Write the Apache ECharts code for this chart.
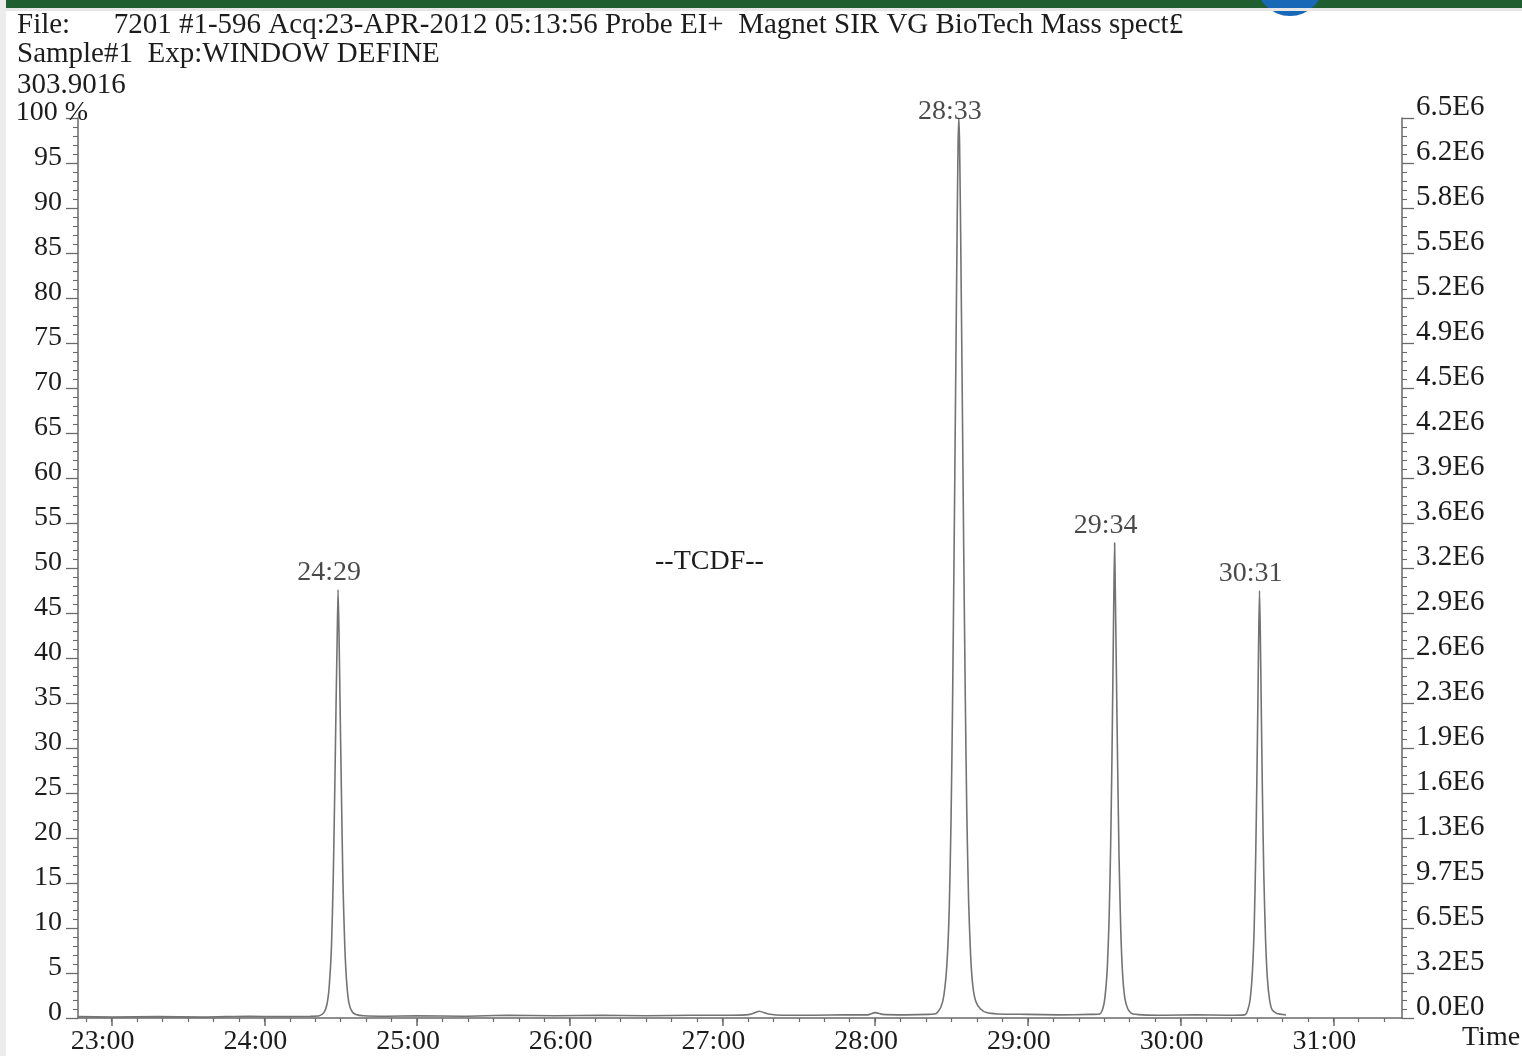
<!DOCTYPE html>
<html>
<head>
<meta charset="utf-8">
<script src="https://cdn.jsdelivr.net/npm/echarts@6/dist/echarts.min.js"></script>
<style>
html,body{margin:0;padding:0;background:#fff;}
#chart{width:1522px;height:1056px;}
</style>
</head>
<body>
<div id="chart"></div>
<script>
// ---- header text ----
const headerLines = [
  'File:      7201 #1-596 Acq:23-APR-2012 05:13:56 Probe EI+  Magnet SIR VG BioTech Mass spect\u00a3',
  'Sample#1  Exp:WINDOW DEFINE',
  '303.9016'
];
const compoundLabel = '--TCDF--';

// ---- axes ----
const xTickValues = [23, 24, 25, 26, 27, 28, 29, 30, 31];
const xTickLabels = ['23:00', '24:00', '25:00', '26:00', '27:00', '28:00', '29:00', '30:00', '31:00'];
const leftLabels = ['0', '5', '10', '15', '20', '25', '30', '35', '40', '45', '50', '55', '60', '65', '70', '75', '80', '85', '90', '95', '100 %'];
const rightLabels = ['0.0E0', '3.2E5', '6.5E5', '9.7E5', '1.3E6', '1.6E6', '1.9E6', '2.3E6', '2.6E6', '2.9E6', '3.2E6', '3.6E6', '3.9E6', '4.2E6', '4.5E6', '4.9E6', '5.2E6', '5.5E6', '5.8E6', '6.2E6', '6.5E6'];
const xAxisName = 'Time';

// ---- trace (retention time in minutes, relative intensity %) ----
const traceTime = [
  22.78, 23.0, 23.3, 23.6, 23.9, 24.1, 24.3,
  24.36, 24.39, 24.41, 24.425, 24.44, 24.452, 24.462, 24.47, 24.477, 24.483, 24.489, 24.496, 24.505, 24.515, 24.527, 24.54, 24.555, 24.575, 24.60, 24.65,
  24.8, 25.0, 25.3, 25.6, 25.9, 26.2, 26.5, 26.8, 27.05, 27.18, 27.24, 27.3, 27.4, 27.6, 27.8, 27.95, 28.0, 28.05, 28.2, 28.35,
  28.40, 28.43, 28.45, 28.47, 28.485, 28.497, 28.507, 28.517, 28.527, 28.537, 28.543, 28.548, 28.553, 28.56, 28.57, 28.58, 28.59, 28.60, 28.612, 28.625, 28.64, 28.66, 28.69, 28.73, 28.8,
  29.0, 29.2, 29.4,
  29.47, 29.49, 29.505, 29.52, 29.532, 29.542, 29.55, 29.557, 29.563, 29.568, 29.573, 29.58, 29.588, 29.597, 29.608, 29.62, 29.635, 29.655, 29.68, 29.75,
  29.9, 30.1, 30.3,
  30.42, 30.44, 30.455, 30.47, 30.482, 30.492, 30.5, 30.507, 30.512, 30.517, 30.522, 30.528, 30.536, 30.545, 30.556, 30.568, 30.583, 30.60, 30.63, 30.69
];
const traceIntensity = [
  0.15, 0.1, 0.15, 0.1, 0.2, 0.15, 0.2,
  0.25, 0.6, 1.5, 3.5, 8, 16, 26, 35, 42, 47.6, 43, 35, 25, 15, 8, 3.8, 1.6, 0.7, 0.4, 0.25,
  0.2, 0.25, 0.2, 0.3, 0.25, 0.3, 0.25, 0.3, 0.3, 0.4, 0.75, 0.45, 0.3, 0.3, 0.35, 0.35, 0.6, 0.4, 0.35, 0.4,
  0.5, 1.2, 2.5, 6, 12, 22, 35, 52, 70, 88, 97, 100, 97, 87, 70, 52, 36, 23, 13, 7, 3.5, 1.8, 1.0, 0.6, 0.45,
  0.4, 0.35, 0.4,
  0.45, 1.0, 2.3, 5.5, 11, 19, 28, 38, 47, 52.8, 47, 38, 28, 18, 10, 5, 2.2, 1.0, 0.5, 0.35,
  0.3, 0.35, 0.3,
  0.35, 0.9, 2.0, 5, 10, 18, 27, 36, 43, 47.5, 43, 35, 25, 16, 9, 4.5, 2.0, 0.9, 0.5, 0.35
];

// ---- peak annotations ----
const peakLabels = ['24:29', '28:33', '29:34', '30:31'];
const peakTime = [24.483, 28.548, 29.568, 30.517];
const peakIntensity = [47.6, 100, 52.8, 47.5];

const FONT = '"Liberation Serif", "DejaVu Serif", serif';
const TXT = '#1c1c1c';
const AX = '#6a6a6a';

const minorTicks = [];
for (let k = 0; k < 52; k++) {
  const v = 22 + 5 / 6 + k / 6;
  if (v < 31.45) minorTicks.push(+v.toFixed(4));
}

const chart = echarts.init(document.getElementById('chart'), null, {renderer: 'canvas'});
const fs = 28;
const hfs = 29;

const option = {
  animation: false,
  backgroundColor: '#ffffff',
  graphic: [
    {type: 'rect', shape: {x: 0, y: 0, width: 1522, height: 8}, style: {fill: '#1f5e2f'}, silent: true},
    {type: 'circle', shape: {cx: 1290, cy: -18, r: 34}, style: {fill: '#1769b8'}, silent: true},
    {type: 'rect', shape: {x: 0, y: 8, width: 1522, height: 3}, style: {fill: '#e6e6e6'}, silent: true},
    {type: 'rect', shape: {x: 0, y: 0, width: 6, height: 1056}, style: {fill: '#ececec'}, silent: true}
  ],
  title: [
    {text: headerLines[0], left: 12, top: 6, textStyle: {fontFamily: FONT, fontSize: hfs, fontWeight: 'normal', color: TXT}},
    {text: headerLines[1], left: 12, top: 35, textStyle: {fontFamily: FONT, fontSize: hfs, fontWeight: 'normal', color: TXT}},
    {text: headerLines[2], left: 12, top: 66, textStyle: {fontFamily: FONT, fontSize: hfs, fontWeight: 'normal', color: TXT}},
    {text: compoundLabel, left: 650, top: 543, textStyle: {fontFamily: FONT, fontSize: fs, fontWeight: 'normal', color: TXT}}
  ],
  grid: {left: 78, right: 120, top: 118, bottom: 38, outerBoundsMode: 'none', containLabel: false},
  xAxis: [
    {
      type: 'value', min: 22.78, max: 31.45, position: 'bottom',
      name: xAxisName, nameLocation: 'end', nameGap: 60,
      nameTextStyle: {fontFamily: FONT, fontSize: fs, color: TXT, verticalAlign: 'top', padding: [6, 0, 0, 0]},
      axisLine: {show: true, lineStyle: {color: AX, width: 1.5}},
      axisTick: {show: true, customValues: xTickValues, length: 8, lineStyle: {color: AX, width: 1.5}},
      axisLabel: {
        customValues: xTickValues, margin: 10,
        fontFamily: FONT, fontSize: fs, color: TXT, padding: [0, 18, 0, 0],
        formatter: function (v) { const i = xTickValues.indexOf(v); return i >= 0 ? xTickLabels[i] : ''; }
      },
      splitLine: {show: false}
    },
    {
      type: 'value', min: 22.78, max: 31.45, position: 'bottom',
      axisLine: {show: false},
      axisTick: {show: true, customValues: minorTicks, length: 4, lineStyle: {color: AX, width: 1.2}},
      axisLabel: {show: false},
      splitLine: {show: false}
    }
  ],
  yAxis: [
    {
      type: 'value', min: 0, max: 100, interval: 5, position: 'left',
      axisLine: {show: true, lineStyle: {color: AX, width: 1.5}},
      axisTick: {show: true, length: 12, lineStyle: {color: AX, width: 1.3}},
      minorTick: {show: true, splitNumber: 5, length: 5, lineStyle: {color: AX, width: 1.1}},
      axisLabel: {
        margin: 16, fontFamily: FONT, fontSize: fs, color: TXT,
        verticalAlign: 'bottom', lineHeight: 10,
        formatter: function (v) {
          const s = leftLabels[Math.round(v / 5)];
          return s.indexOf('%') >= 0 ? '{p|' + s + '}' : s;
        },
        rich: {p: {fontFamily: FONT, fontSize: fs, color: TXT, lineHeight: 10, padding: [0, -26, 0, 0]}}
      },
      splitLine: {show: false}
    },
    {
      type: 'value', min: 0, max: 100, interval: 5, position: 'right',
      axisLine: {show: true, lineStyle: {color: AX, width: 1.5}},
      axisTick: {show: true, length: 12, lineStyle: {color: AX, width: 1.3}},
      minorTick: {show: true, splitNumber: 5, length: 5, lineStyle: {color: AX, width: 1.1}},
      axisLabel: {
        margin: 14, fontFamily: FONT, fontSize: 29, color: TXT,
        verticalAlign: 'bottom', lineHeight: 22,
        formatter: function (v) { return rightLabels[Math.round(v / 5)]; }
      },
      splitLine: {show: false}
    }
  ],
  series: [
    {
      type: 'line', xAxisIndex: 0, yAxisIndex: 0,
      data: traceTime.map((t, i) => [t, traceIntensity[i]]),
      showSymbol: false, smooth: 0.2,
      lineStyle: {color: '#737373', width: 1.6},
      z: 3
    },
    {
      type: 'scatter', xAxisIndex: 0, yAxisIndex: 0,
      data: peakTime.map((t, i) => ({
        value: [t, peakIntensity[i]],
        label: peakIntensity[i] >= 100 ? {distance: -8} : {distance: 3}
      })),
      symbolSize: 0,
      label: {
        show: true, position: 'top',
        fontFamily: FONT, fontSize: fs, color: TXT, padding: [0, 18, 0, 0],
        formatter: function (p) { return peakLabels[p.dataIndex]; }
      },
      z: 4
    }
  ]
};
chart.setOption(option);
</script>
</body>
</html>
